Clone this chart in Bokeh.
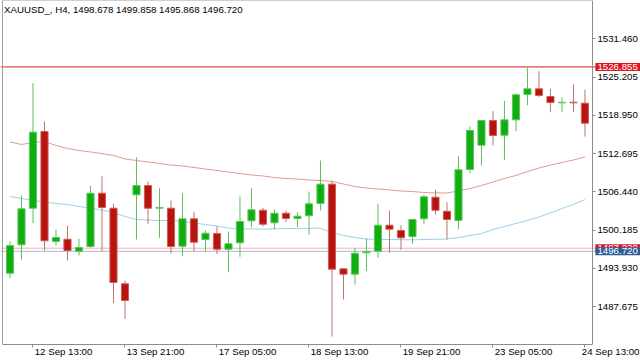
from bokeh.plotting import figure
from bokeh.models import (Range1d, FixedTicker, Label, Span, ColumnDataSource,
                          NumeralTickFormatter, LinearAxis)
from bokeh.embed import file_html
from bokeh.resources import INLINE

# ---------------- data ----------------
header_text = "XAUUSD_, H4, 1498.678 1499.858 1495.868 1496.720"

opens = [1493.13, 1497.78, 1503.76, 1516.30, 1498.32, 1498.69, 1496.73, 1497.50, 1506.21, 1503.76,
         1491.40, 1505.95, 1507.47, 1503.76, 1503.76, 1497.55, 1502.03, 1498.64, 1499.62, 1497.06,
         1498.10, 1501.70, 1503.43, 1501.37, 1502.94, 1502.08, 1502.52, 1504.53, 1507.69, 1493.85,
         1492.97, 1496.47, 1496.73, 1500.98, 1500.12, 1499.13, 1502.03, 1505.56, 1503.27, 1501.75,
         1510.09, 1514.06, 1518.10, 1515.70, 1518.21, 1522.35, 1523.28, 1522.02, 1520.99, 1521.08,
         1520.93]
highs = [1498.32, 1505.84, 1524.20, 1517.94, 1500.23, 1500.93, 1498.76, 1507.42, 1508.99, 1504.48,
         1491.94, 1512.10, 1508.13, 1507.03, 1505.02, 1506.21, 1503.11, 1500.12, 1500.77, 1499.95,
         1505.67, 1507.03, 1503.83, 1503.55, 1503.34, 1503.11, 1506.49, 1511.56, 1508.29, 1493.95,
         1497.22, 1498.81, 1504.48, 1503.39, 1500.98, 1502.00, 1505.95, 1506.77, 1504.74, 1512.26,
         1517.12, 1518.20, 1519.62, 1521.32, 1522.56, 1526.81, 1526.16, 1523.28, 1521.91, 1523.99,
         1523.17]
lows = [1492.32, 1495.37, 1501.31, 1496.85, 1497.66, 1495.21, 1496.03, 1497.29, 1496.73, 1488.23,
        1485.68, 1498.64, 1501.21, 1498.92, 1496.31, 1495.91, 1496.68, 1496.73, 1496.24, 1493.30,
        1495.81, 1500.65, 1500.77, 1500.28, 1501.47, 1500.65, 1499.41, 1503.39, 1482.78, 1488.83,
        1491.29, 1493.49, 1495.65, 1496.47, 1496.96, 1497.94, 1501.21, 1502.73, 1498.64, 1500.28,
        1509.48, 1510.74, 1514.01, 1511.67, 1516.35, 1520.60, 1521.91, 1519.46, 1519.46, 1519.46,
        1515.48]
closes = [1497.66, 1503.66, 1516.19, 1498.43, 1498.97, 1496.85, 1497.34, 1506.21, 1503.88, 1491.61,
          1488.67, 1507.47, 1503.76, 1503.88, 1497.50, 1502.03, 1498.20, 1499.67, 1497.06, 1497.94,
          1501.59, 1503.50, 1501.14, 1502.94, 1502.08, 1502.45, 1504.48, 1507.69, 1493.79, 1492.97,
          1496.40, 1496.68, 1500.98, 1500.33, 1498.92, 1501.91, 1505.62, 1503.43, 1501.91, 1510.04,
          1516.47, 1518.10, 1515.65, 1518.21, 1522.30, 1523.28, 1522.19, 1521.04, 1521.08, 1520.99,
          1517.66]

ma_red = [1514.59, 1514.18, 1514.50, 1514.67, 1514.01, 1513.52, 1513.20, 1512.95, 1512.70, 1512.38,
          1511.81, 1511.56, 1511.32, 1511.07, 1510.82, 1510.66, 1510.42, 1510.17, 1509.93, 1509.68,
          1509.43, 1509.19, 1509.03, 1508.78, 1508.62, 1508.54, 1508.37, 1508.29, 1508.13, 1507.72,
          1507.31, 1507.06, 1506.90, 1506.74, 1506.57, 1506.49, 1506.33, 1506.25, 1506.25, 1506.57,
          1506.98, 1507.47, 1508.04, 1508.62, 1509.11, 1509.76, 1510.33, 1510.82, 1511.23, 1511.64,
          1512.13]
ma_blue = [1505.67, 1505.35, 1505.02, 1504.78, 1504.53, 1504.37, 1504.04, 1503.79, 1503.47, 1503.06,
           1502.40, 1501.91, 1501.83, 1501.75, 1501.75, 1501.59, 1501.34, 1501.10, 1500.85, 1500.52,
           1500.39, 1500.36, 1500.36, 1500.39, 1500.44, 1500.44, 1500.48, 1500.49, 1499.79, 1499.30,
           1498.97, 1498.72, 1498.64, 1498.64, 1498.61, 1498.59, 1498.64, 1498.68, 1498.72, 1498.97,
           1499.30, 1499.62, 1500.28, 1500.77, 1501.26, 1501.75, 1502.32, 1502.98, 1503.71, 1504.37,
           1505.18]

price_ticks = [1487.675, 1493.930, 1500.185, 1506.440, 1512.695, 1518.950, 1525.205, 1531.460]
time_tick_bars = [2, 10, 18, 26, 34, 42, 50]
time_tick_labels = ["12 Sep 13:00", "13 Sep 21:00", "17 Sep 05:00", "18 Sep 13:00",
                    "19 Sep 21:00", "23 Sep 05:00", "24 Sep 13:00"]
resistance_level = 1526.855
ask_level = 1497.220
bid_level = 1496.720

# ---------------- layout / styling ----------------
FONT = "Liberation Sans"
FS = "9.7px"
AXIS_COL = "#8C8C8C"
UP_FILL, UP_EDGE, UP_WICK = "#10AE10", "#5CC65C", "#5CBF5C"
DN_FILL, DN_EDGE, DN_WICK = "#B8140F", "#CF5C58", "#BC7470"

# the data frame covers the whole canvas; the chart box is drawn by fixed-location axes
X0, X1 = -0.826, 54.83          # canvas x extent in bar units
Y0, Y1 = 1478.86, 1537.72       # canvas y extent in price units
BOX_L, BOX_R = -0.63, 50.652    # chart box (left border / price axis)
BOX_B, BOX_T = 1481.48, 1537.64  # chart box (time axis / top border)

bars = list(range(len(opens)))
is_up = [c >= o for o, c in zip(opens, closes)]
src = ColumnDataSource(dict(
    x=bars, high=highs, low=lows,
    top=[max(o, c) for o, c in zip(opens, closes)],
    bottom=[min(o, c) for o, c in zip(opens, closes)],
    fill=[UP_FILL if u else DN_FILL for u in is_up],
    edge=[UP_EDGE if u else DN_EDGE for u in is_up],
    wick=[UP_WICK if u else DN_WICK for u in is_up],
))

p = figure(width=640, height=360, output_backend="svg", toolbar_location=None, tools="",
           x_range=Range1d(X0, X1), y_range=Range1d(Y0, Y1),
           x_axis_type=None, y_axis_type=None, min_border=0)
p.outline_line_color = None
p.background_fill_color = "white"
p.border_fill_color = "white"

# price axis (right)
yax = LinearAxis(ticker=FixedTicker(ticks=price_ticks),
                 formatter=NumeralTickFormatter(format="0.000"),
                 fixed_location=BOX_R, bounds=(BOX_B, BOX_T))
yax.major_label_text_font = FONT
yax.major_label_text_font_size = FS
yax.major_label_text_color = "#000000"
yax.major_tick_out = 3
yax.major_tick_in = 0
yax.minor_tick_out = 0
yax.minor_tick_in = 0
yax.major_label_standoff = 2
yax.axis_line_color = AXIS_COL
yax.major_tick_line_color = AXIS_COL
p.add_layout(yax, "right")

# time axis (bottom): tick marks only, labels drawn left-aligned below
xax = LinearAxis(ticker=FixedTicker(ticks=time_tick_bars),
                 fixed_location=BOX_B, bounds=(BOX_L, BOX_R))
xax.major_label_overrides = {t: "" for t in time_tick_bars}
xax.major_tick_out = 3
xax.major_tick_in = 0
xax.minor_tick_out = 0
xax.minor_tick_in = 0
xax.axis_line_color = AXIS_COL
xax.major_tick_line_color = AXIS_COL
p.add_layout(xax, "below")

# left and top borders of the chart box
lax = LinearAxis(ticker=FixedTicker(ticks=[]), fixed_location=BOX_L, bounds=(BOX_B, BOX_T))
lax.axis_line_color = "#A0A0A0"
lax.major_tick_out = 0
lax.minor_tick_out = 0
p.add_layout(lax, "left")
tax = LinearAxis(ticker=FixedTicker(ticks=[]), fixed_location=BOX_T, bounds=(BOX_L, BOX_R))
tax.axis_line_color = "#A0A0A0"
tax.major_tick_out = 0
tax.minor_tick_out = 0
p.add_layout(tax, "above")

# level lines
for lvl, col in [(ask_level, "#F2AFAF"), (bid_level, "#A9B8CF"), (resistance_level, "#D7191F")]:
    s = Span(location=lvl, dimension="width", line_color=col, line_width=1)
    s.level = "underlay"
    p.add_layout(s)

# moving averages
p.line(bars, ma_red, line_color="#E39A90", line_width=1)
p.line(bars, ma_blue, line_color="#9FCFE8", line_width=1)

# candles
p.segment(x0="x", y0="low", x1="x", y1="high", line_color="wick", line_width=1, source=src)
p.vbar(x="x", width=0.62, top="top", bottom="bottom", fill_color="fill",
       line_color="edge", line_width=1, source=src)

# header
p.add_layout(Label(x=-0.52, y=1536.33, text=header_text, text_font=FONT, text_font_size=FS,
                   text_color="#000000", text_align="left", text_baseline="middle"))

# time labels (left aligned at their ticks, as in the reference; last one kept inside)
for t, lab in zip(time_tick_bars, time_tick_labels):
    if t == time_tick_bars[-1]:
        lbl = Label(x=639, x_units="screen", y=1480.25, text=lab, text_align="right")
    else:
        lbl = Label(x=t + 0.15, y=1480.25, text=lab, text_align="left")
    lbl.text_font = FONT
    lbl.text_font_size = FS
    lbl.text_color = "#000000"
    lbl.text_baseline = "middle"
    p.add_layout(lbl)

# price tags on the right
for lvl, col in [(resistance_level, "#E3141B"), (ask_level, "#E3141B"), (bid_level, "#2D5E98")]:
    p.add_layout(Label(x=50.91, y=lvl, text=f"{lvl:.3f}", text_font=FONT, text_font_size=FS,
                       text_color="white", text_align="left", text_baseline="middle",
                       background_fill_color=col,
                       padding=dict(left=2, right=4, top=1, bottom=1)))

html = file_html(p, INLINE)
html = html.replace("</head>", "<style>html, body {margin:0 !important; padding:0 !important; overflow:hidden;}</style></head>", 1)
open("out.html", "w").write(html)
